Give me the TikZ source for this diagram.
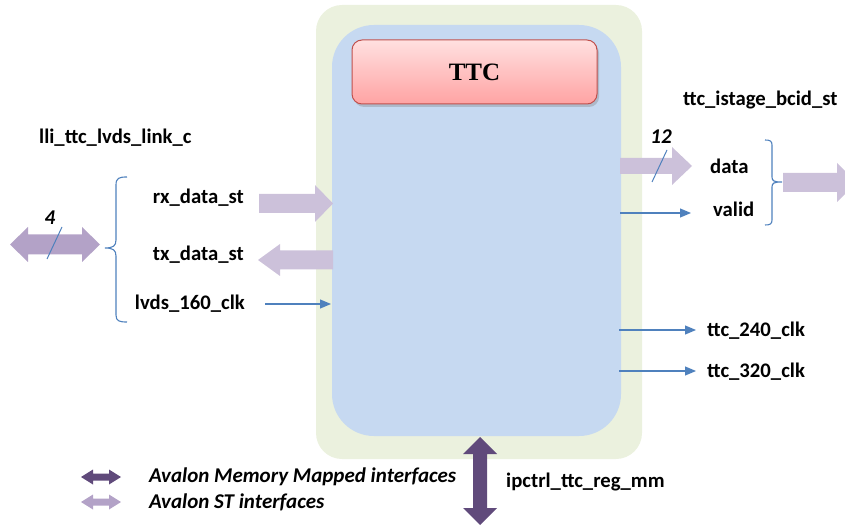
\documentclass[tikz,border=0pt]{standalone}
\usepackage{fontspec}
\setmainfont{Carlito}
\newfontfamily\ttcserif{Liberation Serif}
\usetikzlibrary{arrows.meta,shadows}
\definecolor{greenbg}{HTML}{EBF1DE}
\definecolor{bluebg}{HTML}{C6D9F1}
\definecolor{stcol}{HTML}{CCC1DA}
\definecolor{stdark}{HTML}{B3A2C7}
\definecolor{mmcol}{HTML}{604A7B}
\definecolor{linecol}{HTML}{4F81BD}
\definecolor{ttctop}{HTML}{FFE0E0}
\definecolor{ttcbot}{HTML}{FFA3A3}
\definecolor{ttcborder}{HTML}{C0504D}
% horizontal block arrow: colour, tail x, tip x, y, shaft half, head half, signed head length
\newcommand\hblockarrow[7]{%
  \fill[#1] (#2,{#4-#5}) -- ({#3-#7},{#4-#5}) -- ({#3-#7},{#4-#6}) -- (#3,#4)
    -- ({#3-#7},{#4+#6}) -- ({#3-#7},{#4+#5}) -- (#2,{#4+#5}) -- cycle;}
% horizontal double block arrow: colour, left x, right x, y, shaft half, head half, head length
\newcommand\hdblarrow[7]{%
  \fill[#1] (#2,#4) -- ({#2+#7},{#4-#6}) -- ({#2+#7},{#4-#5}) -- ({#3-#7},{#4-#5})
    -- ({#3-#7},{#4-#6}) -- (#3,#4) -- ({#3-#7},{#4+#6}) -- ({#3-#7},{#4+#5})
    -- ({#2+#7},{#4+#5}) -- ({#2+#7},{#4+#6}) -- cycle;}
% vertical double block arrow: colour, top y, bottom y, x, shaft half, head half, head length
\newcommand\vdblarrow[7]{%
  \fill[#1] (#4,#2) -- ({#4+#6},{#2+#7}) -- ({#4+#5},{#2+#7}) -- ({#4+#5},{#3-#7})
    -- ({#4+#6},{#3-#7}) -- (#4,#3) -- ({#4-#6},{#3-#7}) -- ({#4-#5},{#3-#7})
    -- ({#4-#5},{#2+#7}) -- ({#4-#6},{#2+#7}) -- cycle;}
\begin{document}
\begin{tikzpicture}[x=1pt,y=-1pt,
  lbl/.style={inner sep=0pt,font=\fontsize{20.7}{24}\selectfont\bfseries},
  ilbl/.style={inner sep=0pt,font=\fontsize{21}{24}\selectfont\bfseries\itshape},
  thin/.style={draw=linecol,line width=1.1pt,-{Triangle[length=11pt,width=9pt]}},
  brace/.style={draw=linecol,line width=1.1pt},
  slash/.style={draw=linecol,line width=1pt}]
\useasboundingbox (0,0) rectangle (845,526);
\clip (0,0) rectangle (845,526);
% boxes
\fill[greenbg,rounded corners=26pt] (316,5) rectangle (642,459);
\fill[bluebg,rounded corners=42pt] (332,25) rectangle (621,436);
\path[top color=ttctop,bottom color=ttcbot,draw=ttcborder,line width=1pt,
  rounded corners=10pt,drop shadow={shadow xshift=2pt,shadow yshift=-3pt,opacity=0.35}]
  (352,40) rectangle (597,104);
\node[inner sep=0pt,font=\ttcserif\fontsize{25}{30}\selectfont\bfseries] (ttc) at (474.5,72) {TTC};
% left side
\node[lbl,anchor=west] (link) at (39,138) {lli\_ttc\_lvds\_link\_c};
\node[lbl,anchor=east] (rx) at (244,198) {rx\_data\_st};
\node[lbl,anchor=east] (tx) at (244,255) {tx\_data\_st};
\node[lbl,anchor=east] (lvds) at (245,304) {lvds\_160\_clk};
\hblockarrow{stcol}{259}{333}{203.5}{9.5}{18.5}{18}
\hblockarrow{stcol}{333}{258}{260}{9.5}{16}{-22}
\coordinate (lvdsA) at (265,304);
\coordinate (lvdsB) at (331,304);
\draw[thin] (lvdsA) -- (lvdsB);
\hdblarrow{stdark}{10}{100}{244.5}{10}{17.5}{18}
\node[ilbl] (four) at (50,218) {4};
\coordinate (s1a) at (62,227);
\coordinate (s1b) at (47,259);
\draw[slash] (s1a) -- (s1b);
\draw[brace] (127,177) .. controls (119,177) and (116,178) .. (116,185) -- (116,240)
  .. controls (116,246) and (113,248) .. (105,248)
  .. controls (113,248) and (116,250) .. (116,256) -- (116,315)
  .. controls (116,321) and (119,322) .. (127,322);
% right side
\node[lbl,anchor=west] (bcid) at (683,100) {ttc\_istage\_bcid\_st};
\node[ilbl] (twelve) at (661,137) {12};
\node[lbl,anchor=west] (data) at (710,166) {data};
\node[lbl,anchor=west] (valid) at (713,209) {valid};
\hblockarrow{stcol}{620}{692}{166}{8}{19}{20}
\coordinate (s2a) at (667,150);
\coordinate (s2b) at (652,182);
\draw[slash] (s2a) -- (s2b);
\coordinate (validA) at (620,213);
\coordinate (validB) at (691,213);
\draw[thin] (validA) -- (validB);
\draw[brace] (765,140) .. controls (770,140) and (772,141) .. (772,145) -- (772,177)
  .. controls (772,181) and (774,182) .. (782,182)
  .. controls (774,182) and (772,183) .. (772,187) -- (772,220)
  .. controls (772,224) and (770,225) .. (765,225);
\hblockarrow{stcol}{783}{857}{182.5}{9.5}{19.5}{20}
\node[lbl,anchor=west] (c240) at (707,331) {ttc\_240\_clk};
\node[lbl,anchor=west] (c320) at (707,372) {ttc\_320\_clk};
\coordinate (c240A) at (619,330);
\coordinate (c240B) at (696,330);
\coordinate (c320A) at (619,371);
\coordinate (c320B) at (696,371);
\draw[thin] (c240A) -- (c240B);
\draw[thin] (c320A) -- (c320B);
% bottom
\vdblarrow{mmcol}{437}{525}{480}{7}{17}{17}
\node[lbl,anchor=west] (mm) at (506,482) {ipctrl\_ttc\_reg\_mm};
% legend
\hdblarrow{mmcol}{81}{121}{477}{3.5}{7.5}{12}
\hdblarrow{stdark}{81}{121}{502}{3.5}{7.5}{12}
\node[ilbl,anchor=west] (legmm) at (149,477) {Avalon Memory Mapped interfaces};
\node[ilbl,anchor=west] (legst) at (149,502) {Avalon ST interfaces};
\end{tikzpicture}
\end{document}
